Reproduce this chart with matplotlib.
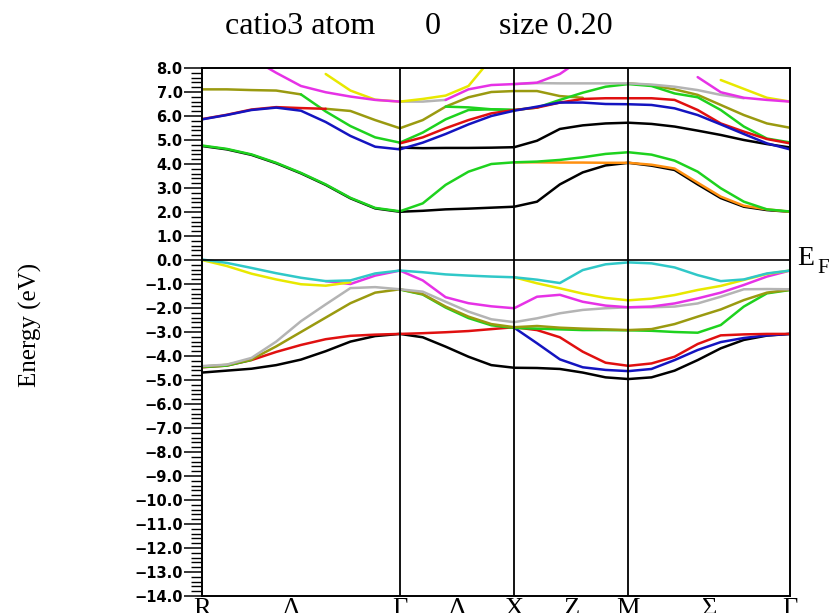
import numpy as np
import matplotlib
matplotlib.use("Agg")
import matplotlib.pyplot as plt
from matplotlib.ticker import MultipleLocator, FuncFormatter

nan = np.nan

# === PATH: R - Γ - X - M - Γ (distances in 2π/a) ===
k_nodes = [0.0, 0.866, 1.366, 1.866, 2.573]
seg_points = [9, 6, 6, 8]
k_labels = ["R", "Λ", "Γ", "Δ", "X", "Z", "M", "Σ", "Γ"]
k_label_pos = [0.0, 0.39, 0.866, 1.116, 1.366, 1.618, 1.866, 2.22, 2.573]

# === BANDS (eV), read at the 26 k-points of the path ===
# conduction bands
cb_black_low = [4.75, 4.61, 4.38, 4.03, 3.61, 3.13, 2.57, 2.15, 2.01,
                2.05, 2.11, 2.14, 2.18, 2.22,
                2.43, 3.15, 3.65, 3.94, 4.05,
                3.93, 3.75, 3.15, 2.58, 2.22, 2.08, 2.01]
cb_orange = [nan, nan, nan, nan, nan, nan, nan, nan, nan,
             nan, nan, nan, nan, 4.07,
             4.07, 4.06, 4.06, 4.05, 4.05,
             3.97, 3.81, 3.22, 2.64, 2.26, 2.11, 2.01]
cb_green_low = [4.77, 4.63, 4.40, 4.05, 3.63, 3.15, 2.59, 2.17, 2.03,
                2.36, 3.13, 3.68, 4.00, 4.07,
                4.10, 4.17, 4.28, 4.42, 4.49,
                4.39, 4.14, 3.68, 2.99, 2.43, 2.11, 2.02]
cb_black_mid = [nan, nan, nan, nan, nan, nan, nan, nan, 4.68,
                4.66, 4.67, 4.67, 4.68, 4.70,
                4.97, 5.46, 5.61, 5.69, 5.72,
                5.67, 5.56, 5.39, 5.21, 5.00, 4.83, 4.69]
cb_blue = [5.86, 6.04, 6.25, 6.35, 6.22, 5.75, 5.17, 4.72, 4.61,
           4.89, 5.25, 5.65, 6.00, 6.22,
           6.39, 6.56, 6.56, 6.50, 6.49,
           6.46, 6.32, 6.04, 5.65, 5.25, 4.86, 4.61]
cb_red = [5.87, 6.05, 6.27, 6.37, 6.33, 6.30, nan, nan, 4.86,
          5.11, 5.49, 5.83, 6.11, 6.25,
          6.35, 6.56, 6.71, 6.74, 6.74,
          6.74, 6.67, 6.25, 5.69, 5.35, 5.04, 4.86]
cb_olive_a = [7.11, 7.11, 7.08, 7.06, 6.90, nan, nan, nan, nan,
              nan, nan, nan, nan, nan,
              nan, nan, nan, nan, nan,
              nan, nan, nan, nan, nan, nan, nan]
cb_olive_b = [nan, nan, nan, nan, nan, 6.30, 6.21, 5.83, 5.49,
              5.83, 6.39, 6.78, 7.00, 7.04,
              7.04, 6.83, 6.76, nan, 7.36,
              7.28, 7.11, 6.88, 6.46, 6.04, 5.69, 5.51]
cb_green_hi = [nan, nan, nan, nan, 6.90, 6.19, 5.58, 5.11, 4.89,
               5.31, 5.86, 6.25, 6.28, 6.25,
               6.35, 6.67, 6.97, 7.22, 7.33,
               7.25, 6.94, 6.78, 6.25, 5.56, 5.06, 4.90]
cb_green_flat = [nan, nan, nan, nan, nan, nan, nan, nan, nan,
                 nan, 6.39, 6.36, 6.28, 6.25,
                 nan, nan, nan, nan, nan,
                 nan, nan, nan, nan, nan, nan, nan]
cb_gray = [nan, nan, nan, nan, nan, nan, nan, nan, 6.60,
           6.60, 6.67, nan, nan, 7.33,
           7.37, 7.36, 7.36, 7.36, 7.36,
           7.31, 7.22, 7.08, 6.88, 6.74, nan, nan]
cb_yellow = [nan, nan, nan, nan, nan, 7.75, 7.06, 6.68, 6.60,
             6.71, 6.85, 7.25, 8.40, nan,
             nan, nan, nan, nan, nan,
             nan, nan, nan, 7.50, 7.13, 6.76, 6.60]
cb_magenta = [nan, nan, 8.40, 7.80, 7.25, 6.99, 6.81, 6.67, 6.60,
              nan, 6.67, 7.11, 7.29, 7.33,
              7.39, 7.75, 8.40, nan, nan,
              nan, nan, 7.62, 6.99, 6.76, 6.67, 6.60]

# valence bands
vb_black = [-4.69, -4.61, -4.53, -4.38, -4.15, -3.80, -3.40, -3.17, -3.08,
            -3.22, -3.61, -4.03, -4.38, -4.49,
            -4.50, -4.54, -4.69, -4.89, -4.96,
            -4.89, -4.61, -4.17, -3.68, -3.33, -3.15, -3.08]
vb_blue = [nan, nan, nan, nan, nan, nan, nan, nan, nan,
           nan, nan, nan, nan, -2.82,
           -3.47, -4.14, -4.47, -4.58, -4.63,
           -4.54, -4.17, -3.75, -3.42, -3.25, -3.14, -3.08]
vb_red = [-4.47, -4.40, -4.17, -3.83, -3.54, -3.30, -3.16, -3.11, -3.08,
          -3.05, -3.01, -2.96, -2.88, -2.80,
          -2.92, -3.22, -3.82, -4.28, -4.41,
          -4.31, -4.03, -3.50, -3.14, -3.10, -3.08, -3.08]
vb_green = [-4.46, -4.40, -4.16, nan, nan, nan, nan, nan, -1.23,
            -1.44, -1.98, -2.42, -2.72, -2.83,
            -2.86, -2.89, -2.92, -2.92, -2.93,
            -2.95, -3.00, -3.03, -2.71, -1.94, -1.39, -1.25]
vb_olive = [-4.44, -4.37, -4.14, -3.60, -3.00, -2.40, -1.80, -1.36, -1.22,
            -1.42, -1.94, -2.36, -2.67, -2.80,
            -2.75, -2.82, -2.86, -2.89, -2.92,
            -2.88, -2.67, -2.36, -2.06, -1.67, -1.36, -1.24]
vb_gray = [-4.42, -4.36, -4.08, -3.40, -2.55, -1.85, -1.17, -1.13, -1.22,
           -1.32, -1.74, -2.15, -2.47, -2.59,
           -2.43, -2.22, -2.08, -2.01, -1.97,
           -1.97, -1.94, -1.81, -1.53, -1.22, -1.21, -1.22]
vb_magenta = [nan, nan, nan, nan, nan, -0.88, -1.00, -0.65, -0.44,
              -0.85, -1.55, -1.80, -1.93, -2.01,
              -1.53, -1.45, -1.74, -1.90, -1.97,
              -1.94, -1.81, -1.60, -1.36, -1.04, -0.69, -0.44]
vb_yellow = [0.00, -0.25, -0.57, -0.81, -1.01, -1.07, -0.93, nan, nan,
             nan, nan, nan, nan, -0.72,
             -0.97, -1.18, -1.40, -1.58, -1.68,
             -1.61, -1.46, -1.25, -1.08, -0.83, -0.58, -0.44]
vb_cyan = [0.02, -0.12, -0.33, -0.55, -0.74, -0.88, -0.85, -0.56, -0.44,
           -0.51, -0.60, -0.65, -0.69, -0.72,
           -0.82, -0.96, -0.42, -0.18, -0.10,
           -0.14, -0.31, -0.63, -0.88, -0.81, -0.56, -0.44]

# === COLORS ===
BLACK = "#000000"
GREEN = "#1ed21e"
RED = "#e01010"
BLUE = "#1414c0"
OLIVE = "#9a9a10"
GRAY = "#b4b4b4"
MAGENTA = "#e632e6"
YELLOW = "#e8e800"
CYAN = "#30c8c8"
ORANGE = "#ff9010"

bands = [
    (cb_black_low, BLACK), (cb_orange, ORANGE), (cb_green_low, GREEN),
    (cb_black_mid, BLACK), (cb_olive_a, OLIVE), (cb_olive_b, OLIVE),
    (cb_green_hi, GREEN), (cb_green_flat, GREEN), (cb_red, RED),
    (cb_blue, BLUE), (cb_gray, GRAY), (cb_yellow, YELLOW), (cb_magenta, MAGENTA),
    (vb_black, BLACK), (vb_blue, BLUE), (vb_red, RED), (vb_green, GREEN),
    (vb_olive, OLIVE), (vb_gray, GRAY), (vb_magenta, MAGENTA),
    (vb_yellow, YELLOW), (vb_cyan, CYAN),
]

# === K GRID ===
k = np.concatenate([
    np.linspace(a, b, n)[(1 if i else 0):]
    for i, (a, b, n) in enumerate(zip(k_nodes[:-1], k_nodes[1:], seg_points))
])

# === PLOT ===
fig = plt.figure(figsize=(8.35, 6.13), dpi=100)
W, H = 835, 613
ax = fig.add_axes([202 / W, 1 - 596 / H, 588 / W, 528 / H])

for values, color in bands:
    ax.plot(k, values, color=color, lw=1.8, solid_capstyle="round")

for kn in k_nodes[1:-1]:
    ax.axvline(kn, color="black", lw=1.3)
ax.axhline(0.0, color="black", lw=1.2)

ax.set_xlim(k_nodes[0], k_nodes[-1])
ax.set_ylim(-14, 8)

for sp in ax.spines.values():
    sp.set_linewidth(1.4)

ax.yaxis.set_major_locator(MultipleLocator(1.0))
ax.yaxis.set_minor_locator(MultipleLocator(0.2))
ax.yaxis.set_major_formatter(FuncFormatter(lambda v, p: f"{v:.1f}".replace("-", "\u2212")))
ax.tick_params(axis="y", which="major", direction="out", length=13, width=1.1, pad=1,
               labelsize=10.5)
ax.tick_params(axis="y", which="minor", direction="out", length=8, width=1.0)
for lbl in ax.get_yticklabels():
    lbl.set_fontweight("bold")

ax.set_xticks(k_label_pos)
ax.set_xticklabels(k_labels, fontsize=19, family="Liberation Serif")
ax.tick_params(axis="x", length=0, pad=1.5)

ax.text(-0.292, 0.513, "Energy (eV)", transform=ax.transAxes, rotation=90,
        ha="center", va="center", fontsize=18, family="Liberation Serif")

# E_F marker
ax.annotate("E", xy=(1.0, 0.0), xycoords=("axes fraction", "data"),
            xytext=(5, 1), textcoords="offset points", ha="left", va="center",
            fontsize=20, family="Liberation Serif", annotation_clip=False)
ax.annotate("F", xy=(1.0, 0.0), xycoords=("axes fraction", "data"),
            xytext=(19.5, -6), textcoords="offset points", ha="left", va="center",
            fontsize=15, family="Liberation Serif", annotation_clip=False)

# title
title_y = 1 - 27 / H
fig.text(300 / W, title_y, "catio3 atom", ha="center", va="center",
         fontsize=23, family="Liberation Serif")
fig.text(433 / W, title_y, "0", ha="center", va="center",
         fontsize=23, family="Liberation Serif")
fig.text(556 / W, title_y, "size 0.20", ha="center", va="center",
         fontsize=23, family="Liberation Serif")

fig.savefig("out.png", dpi=100)
